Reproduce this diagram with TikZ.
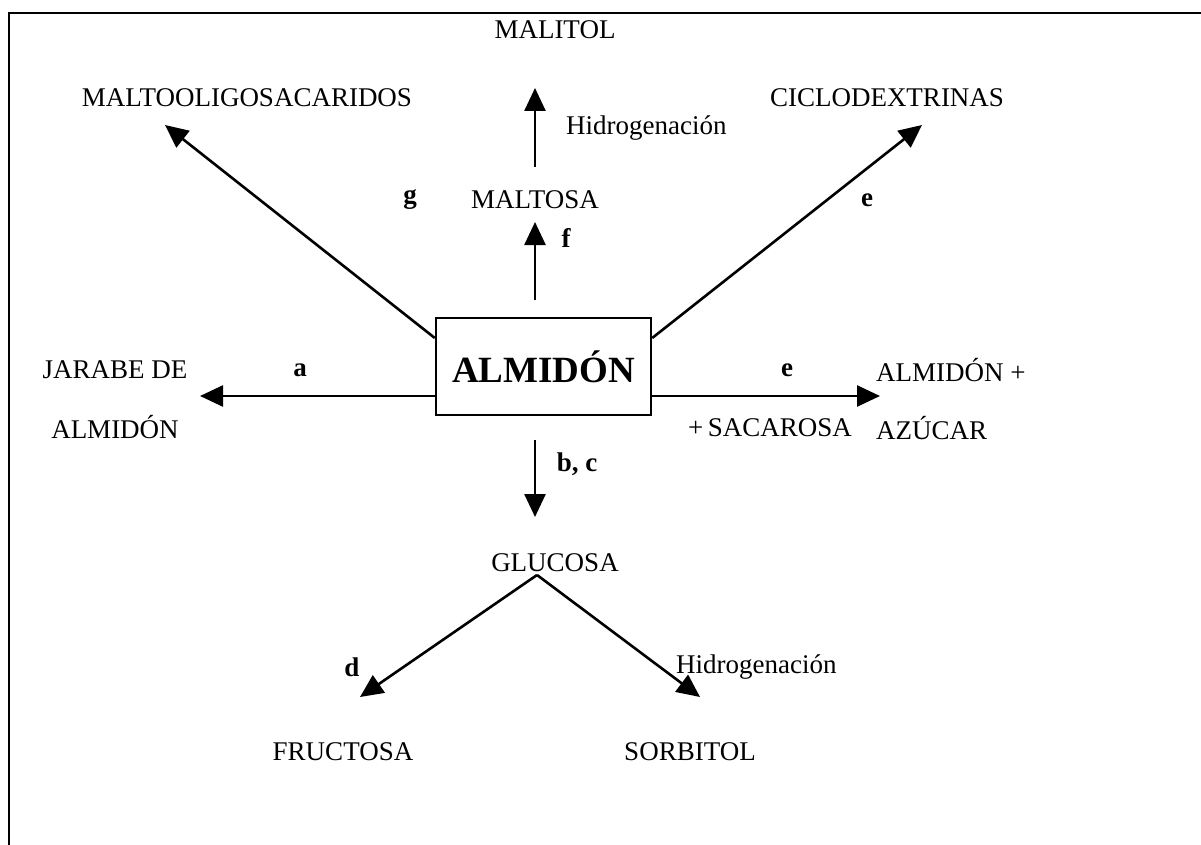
\documentclass[tikz,border=0pt]{standalone}
\usepackage{fontspec}
\setmainfont{Liberation Serif}
\usetikzlibrary{arrows.meta}
\begin{document}
\begin{tikzpicture}[x=1pt,y=-1pt,
  lbl/.style={inner sep=0pt,font=\fontsize{27}{31}\selectfont},
  letter/.style={inner sep=0pt,font=\fontsize{27}{31}\selectfont\bfseries},
  arr/.style={line width=2.6pt,-{Triangle[length=23pt,width=21pt]}}]
\useasboundingbox (0,0) rectangle (1201,845);
\fill[white] (0,0) rectangle (1201,845);
% frame (top and left only)
\coordinate (fTL) at (9,13);
\coordinate (fTR) at (1201,13);
\coordinate (fBL) at (9,845);
\draw[line width=2.8pt] (fTR) -- (fTL) -- (fBL);

% central box
\node[draw,line width=2.4pt,minimum width=215pt,minimum height=97pt,inner sep=0pt,
      font=\fontsize{37}{40}\selectfont\bfseries] (box) at (543.5,366.5) {ALMIDÓN};

% text nodes
\node[lbl] (malitol) at (555,30) {MALITOL};
\node[lbl] (maltoolig) at (247,98) {MALTOOLIGOSACARIDOS};
\node[lbl] (ciclo) at (887,98) {CICLODEXTRINAS};
\node[lbl,anchor=west] (hidro1) at (566,128) {Hidrogenación};
\node[lbl] (maltosa) at (535,200) {MALTOSA};
\node[letter] (f) at (566,238) {f};
\node[letter] (g) at (410,200) {g};
\node[letter] (e1) at (867,200) {e};
\node[lbl] (jarabe) at (115,370) {JARABE DE};
\node[lbl] (almidonL) at (115,427) {ALMIDÓN};
\node[letter] (a) at (300,370) {a};
\node[letter] (e2) at (787,370) {e};
\node[lbl,anchor=west] (almidonR) at (876,370) {ALMIDÓN +};
\node[lbl] (sacarosa) at (770,428) {+\,SACAROSA};
\node[lbl,anchor=west] (azucar) at (876,428) {AZÚCAR};
\node[letter] (bc) at (577,464) {b, c};
\node[lbl] (glucosa) at (555,563) {GLUCOSA};
\node[letter] (d) at (352,667) {d};
\node[lbl,anchor=west] (hidro2) at (676,667) {Hidrogenación};
\node[lbl] (fructosa) at (343,752) {FRUCTOSA};
\node[lbl] (sorbitol) at (690,752) {SORBITOL};

% arrow end points
\coordinate (upS) at (535,300);
\coordinate (upT) at (535,222);
\coordinate (up2S) at (535,167);
\coordinate (up2T) at (535,88);
\coordinate (lS) at (box.west |- 0,396);
\coordinate (lT) at (200,396);
\coordinate (rS) at (box.east |- 0,396);
\coordinate (rT) at (880,396);
\coordinate (ulS) at (box.west |- 0,338);
\coordinate (ulT) at (165,125);
\coordinate (urS) at (box.east |- 0,338);
\coordinate (urT) at (922,125);
\coordinate (dS) at (535,440);
\coordinate (dT) at (535,517);
\coordinate (apex) at (537,575);
\coordinate (dlT) at (360,697);
\coordinate (drT) at (700,697);

\draw[arr] (upS) -- (upT);
\draw[arr] (up2S) -- (up2T);
\draw[arr] (lS) -- (lT);
\draw[arr] (rS) -- (rT);
\draw[arr] (ulS) -- (ulT);
\draw[arr] (urS) -- (urT);
\draw[arr] (dS) -- (dT);
\draw[arr] (apex) -- (dlT);
\draw[arr] (apex) -- (drT);
\end{tikzpicture}
\end{document}
